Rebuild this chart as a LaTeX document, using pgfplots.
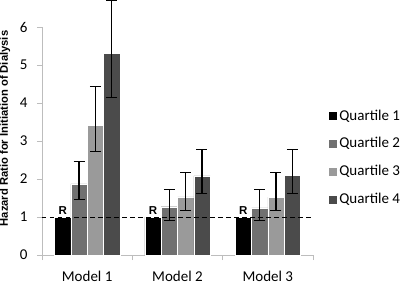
\documentclass[border=0pt]{standalone}
\usepackage{pgfplots}
\pgfplotsset{compat=1.18}
\usepackage{fontspec}
\setmainfont{Carlito}
\newfontfamily\arialf{Liberation Sans}
\definecolor{qone}{HTML}{000000}
\definecolor{qtwo}{HTML}{707070}
\definecolor{qthree}{HTML}{9A9A9A}
\definecolor{qfour}{HTML}{4B4B4B}
\definecolor{axgray}{HTML}{BDBDBD}
\begin{document}
\begin{tikzpicture}
\useasboundingbox (-42pt,-31pt) rectangle (364pt,255pt);
\begin{axis}[
  scale only axis,
  width=271pt, height=228pt,
  at={(0pt,0pt)}, anchor=south west,
  ybar=0pt, bar width=16.3pt,
  xmin=-0.5, xmax=2.5, ymin=0, ymax=6,
  xtick={0,1,2}, xticklabels={Model 1,Model 2,Model 3},
  minor xtick={-0.5,0.5,1.5,2.5},
  ytick={0,1,2,3,4,5,6},
  tick align=outside,
  major x tick style={draw=none},
  minor tick length=5pt,
  major tick length=5pt,
  tick style={axgray, line width=0.8pt},
  axis line style={axgray, line width=0.8pt},
  axis x line*=bottom, axis y line*=left,
  clip=false,
  font=\fontsize{15}{17}\selectfont,
  /pgf/number format/assume math mode=true,
  yticklabel style={xshift=-6pt},
  xticklabel style={yshift=-8pt},
  ylabel={Hazard Ratio for Initiation of Dialysis},
  ylabel style={font=\arialf\bfseries\fontsize{11.2}{13}\selectfont, at={(axis description cs:-0.1365,0.555)}, anchor=center},
  legend style={at={(1.055,0.428)}, anchor=west, draw=none, fill=none,
    font=\fontsize{15}{17}\selectfont, row sep=16pt, inner sep=0pt,
    nodes={inner xsep=2pt, inner ysep=0pt}},
  legend cell align=left,
  legend image code/.code={\fill[#1] (0pt,-4.5pt) rectangle (9pt,4.5pt);},
  error bars/error bar style={black, line width=1.1pt},
  error bars/error mark options={rotate=90, mark size=5.5pt, line width=1.1pt, black},
]
\addplot[fill=qone, draw=white, line width=0.3pt,
  nodes near coords={\textbf{R}},
  every node near coord/.append style={font=\arialf\bfseries\fontsize{11.5}{13}\selectfont, black, yshift=-1pt}]
  coordinates {(0,1) (1,1) (2,1)};
\addlegendentry{Quartile 1}
\addplot[fill=qtwo, draw=white, line width=0.3pt,
  error bars/.cd, y dir=both, y explicit]
  coordinates {(0,1.87) += (0,0.58) -= (0,0.40)
               (1,1.27) += (0,0.45) -= (0,0.36)
               (2,1.24) += (0,0.48) -= (0,0.33)};
\addlegendentry{Quartile 2}
\addplot[fill=qthree, draw=white, line width=0.3pt,
  error bars/.cd, y dir=both, y explicit]
  coordinates {(0,3.42) += (0,1.01) -= (0,0.70)
               (1,1.53) += (0,0.63) -= (0,0.35)
               (2,1.52) += (0,0.64) -= (0,0.34)};
\addlegendentry{Quartile 3}
\addplot[fill=qfour, draw=white, line width=0.3pt,
  error bars/.cd, y dir=both, y explicit]
  coordinates {(0,5.30) += (0,1.40) -= (0,1.15)
               (1,2.08) += (0,0.69) -= (0,0.46)
               (2,2.09) += (0,0.68) -= (0,0.47)};
\addlegendentry{Quartile 4}
\addplot[sharp plot, black, line width=1pt, dash pattern=on 4.5pt off 3.5pt, forget plot]
  coordinates {(-0.5,1) (2.5,1)};
\end{axis}
\end{tikzpicture}
\end{document}
